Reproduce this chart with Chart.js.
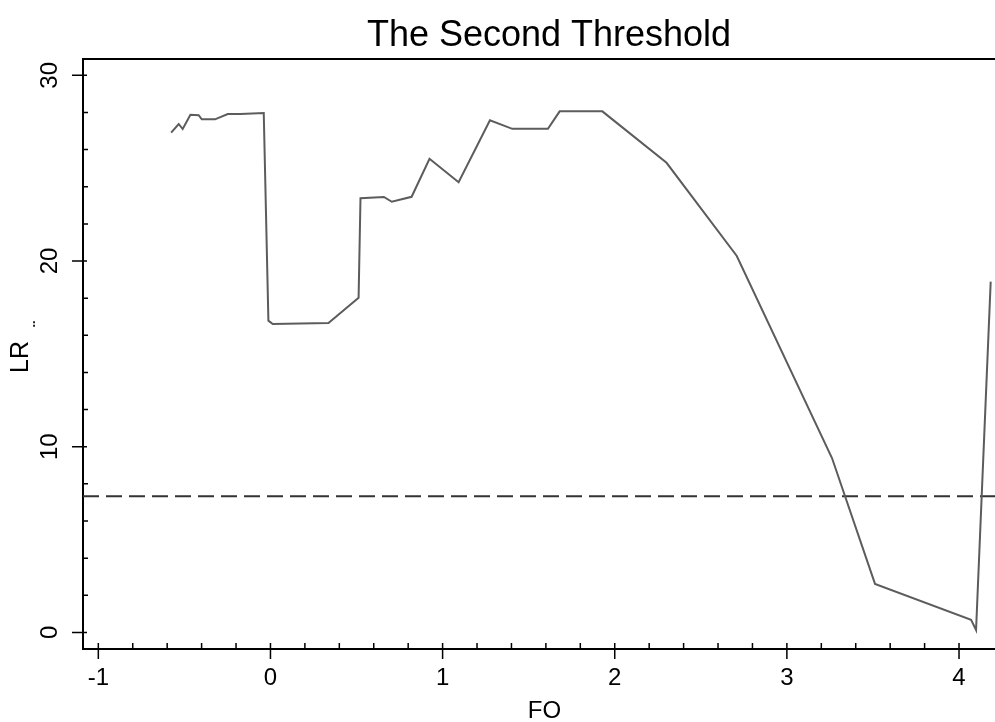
<!DOCTYPE html>
<html>
<head>
<meta charset="utf-8">
<script src="https://cdn.jsdelivr.net/npm/chart.js@4.4.1/dist/chart.umd.min.js"></script>
<style>
  html, body { margin: 0; padding: 0; background: #fff; }
  #wrap { width: 995px; height: 722px; }
</style>
</head>
<body>
<div id="wrap"><canvas id="c" width="995" height="722"></canvas></div>
<script>
/* ---------- data ---------- */
const chartTitle = "The Second Threshold";
const xTitle = "FO";
const yTitle = "LR";

const foValues = [-0.577, -0.533, -0.510, -0.465, -0.417, -0.399, -0.322, -0.248, -0.176, -0.039,
                  -0.012, 0.013, 0.337, 0.512, 0.523, 0.659, 0.705, 0.820, 0.924, 1.093,
                  1.275, 1.405, 1.612, 1.680, 1.928, 2.301, 2.709, 3.262, 3.512, 4.070,
                  4.099, 4.184];
const lrValues = [26.91, 27.38, 27.11, 27.88, 27.85, 27.63, 27.63, 27.92, 27.92, 27.97,
                  16.79, 16.61, 16.66, 18.02, 23.38, 23.45, 23.19, 23.46, 25.51, 24.24,
                  27.58, 27.12, 27.12, 28.06, 28.06, 25.29, 20.27, 9.39, 2.61, 0.68,
                  0.13, 18.89];
const threshold = 7.33;

const xTicks = [-1, 0, 1, 2, 3, 4];
const xMinorTicks = [-0.8, -0.6, -0.4, -0.2, 0.2, 0.4, 0.6, 0.8, 1.2, 1.4, 1.6, 1.8,
                     2.2, 2.4, 2.6, 2.8, 3.2, 3.4, 3.6, 3.8];
const yTicks = [0, 10, 20, 30];
const yMinorTicks = [2, 4, 6, 8, 12, 14, 16, 18, 22, 24, 26, 28];
const xRange = [-1.089, 4.209];
const yRange = [-0.894, 30.88];

const FONT = '"Liberation Sans", Arial, Helvetica, sans-serif';

/* ---------- frame, tick marks and texts ---------- */
const stataFrame = {
  id: "stataFrame",
  afterDraw(chart) {
    const ctx = chart.ctx;
    const a = chart.chartArea;
    const xs = chart.scales.x, ys = chart.scales.y;
    ctx.save();
    ctx.strokeStyle = "#000";
    // top frame line
    ctx.lineWidth = 2;
    ctx.beginPath();
    ctx.moveTo(a.left - 1, a.top);
    ctx.lineTo(a.right, a.top);
    ctx.stroke();

    ctx.lineWidth = 1.5;
    ctx.beginPath();
    yTicks.forEach(v => { const y = ys.getPixelForValue(v); ctx.moveTo(a.left - 11, y); ctx.lineTo(a.left + 4, y); });
    yMinorTicks.forEach(v => { const y = ys.getPixelForValue(v); ctx.moveTo(a.left, y); ctx.lineTo(a.left + 5, y); });
    xTicks.forEach(v => { const x = xs.getPixelForValue(v); ctx.moveTo(x, a.bottom - 6); ctx.lineTo(x, a.bottom + 10); });
    xMinorTicks.forEach(v => { const x = xs.getPixelForValue(v); ctx.moveTo(x, a.bottom - 6); ctx.lineTo(x, a.bottom); });
    ctx.stroke();

    ctx.fillStyle = "#000";
    ctx.textAlign = "center";
    ctx.textBaseline = "middle";

    // y tick labels, turned upright like the original
    ctx.font = "24px " + FONT;
    yTicks.forEach(v => {
      ctx.save();
      ctx.translate(50, ys.getPixelForValue(v));
      ctx.rotate(-Math.PI / 2);
      ctx.fillText(String(v), 0, 0);
      ctx.restore();
    });

    // axis titles
    ctx.save();
    ctx.translate(21, 357);
    ctx.rotate(-Math.PI / 2);
    ctx.font = "25px " + FONT;
    ctx.fillText(yTitle, 0, 0);
    ctx.restore();

    ctx.save();
    ctx.translate(35, 324);
    ctx.rotate(-Math.PI / 2);
    ctx.font = "bold 13px " + FONT;
    ctx.fillStyle = "#222";
    ctx.textBaseline = "alphabetic";
    ctx.fillText("..", 0, 0);
    ctx.restore();

    ctx.font = "24px " + FONT;
    ctx.fillText(xTitle, 544.5, 711);

    ctx.font = "36px " + FONT;
    ctx.fillText(chartTitle, 549, 36);
    ctx.restore();
  }
};

/* ---------- chart ---------- */
new Chart(document.getElementById("c"), {
  type: "line",
  data: {
    datasets: [
      {
        data: foValues.map((x, i) => ({ x: x, y: lrValues[i] })),
        borderColor: "#5c5c5c",
        borderWidth: 2,
        pointRadius: 0,
        tension: 0
      },
      {
        data: [{ x: xRange[0], y: threshold }, { x: xRange[1], y: threshold }],
        borderColor: "#333",
        borderWidth: 2,
        borderDash: [16, 7],
        pointRadius: 0
      }
    ]
  },
  options: {
    responsive: false,
    devicePixelRatio: 1,
    animation: false,
    layout: { padding: { top: 59, left: 0, right: 0, bottom: 0 } },
    plugins: { legend: { display: false }, tooltip: { enabled: false }, title: { display: false } },
    scales: {
      x: {
        type: "linear",
        min: xRange[0],
        max: xRange[1],
        afterBuildTicks: s => { s.ticks = xTicks.map(v => ({ value: v })); },
        afterFit: s => { s.height = 73; },
        grid: { display: false, drawTicks: false },
        border: { display: true, color: "#000", width: 2 },
        ticks: {
          color: "#000",
          font: { family: FONT, size: 24 },
          padding: 15,
          maxRotation: 0,
          autoSkip: false,
          callback: v => String(v)
        }
      },
      y: {
        type: "linear",
        min: yRange[0],
        max: yRange[1],
        afterBuildTicks: s => { s.ticks = yTicks.map(v => ({ value: v })); },
        afterFit: s => { s.width = 83; },
        grid: { display: false, drawTicks: false },
        border: { display: true, color: "#000", width: 2 },
        ticks: { display: false }
      }
    }
  },
  plugins: [stataFrame]
});
</script>
</body>
</html>
